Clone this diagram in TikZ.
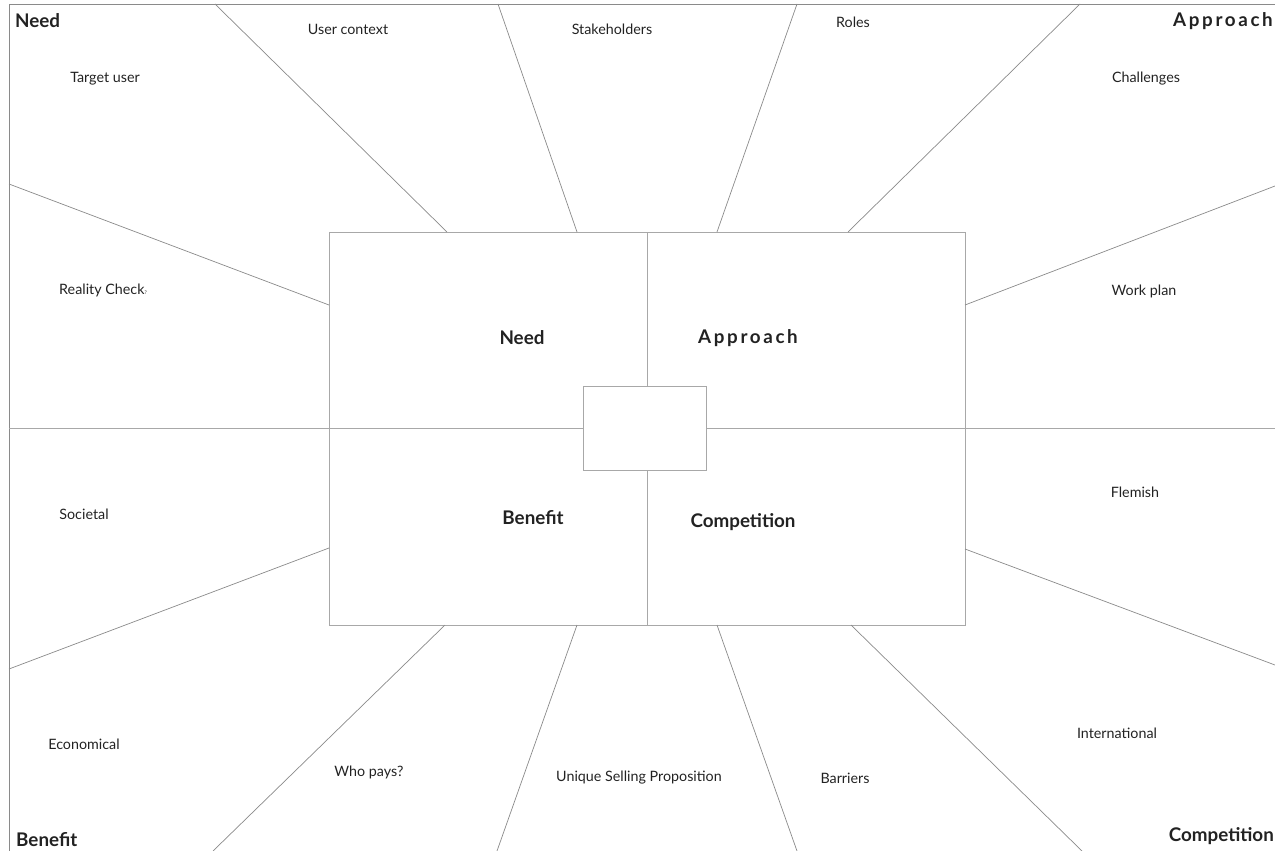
\documentclass[tikz,border=0pt]{standalone}
\usepackage{fontspec}
\setmainfont{Lato}
\definecolor{linec}{HTML}{8A8A8A}
\definecolor{boxc}{HTML}{A8A8A8}
\definecolor{txt}{HTML}{222222}
\tikzset{
  ray/.style={draw=linec, line width=0.7pt},
  boxline/.style={draw=boxc, line width=1pt},
  lbl/.style={text=txt, font=\fontsize{14.3}{16}\selectfont, inner sep=0pt},
  head/.style={text=txt, font=\fontsize{18.8}{20}\selectfont\bfseries, inner sep=0pt},
}
\begin{document}
\begin{tikzpicture}[x=1pt,y=-1pt]
\useasboundingbox (0,0) rectangle (1275,851);
% outer frame
\draw[ray] (9,851) -- (9,4) -- (1275,4);
% main rectangle
\node[boxline, minimum width=636pt, minimum height=393pt, inner sep=0pt, anchor=north west] (main) at (329,232) {};
% centre box
\node[boxline, minimum width=123pt, minimum height=84pt, inner sep=0pt, anchor=north west] (core) at (583,386) {};
% quadrant dividers
\coordinate (mt) at (647,232);
\coordinate (mb) at (647,625);
\coordinate (hl) at (9,428);
\coordinate (hr) at (1275,428);
\draw[boxline] (mt) -- (core.north -| mt);
\draw[boxline] (core.south -| mb) -- (mb);
\draw[boxline] (hl) -- (core.west |- hl);
\draw[boxline] (core.east |- hr) -- (hr);
% rays: top
\coordinate (t1o) at (215,4);  \coordinate (t1i) at (447,232);
\coordinate (t2o) at (498,4);  \coordinate (t2i) at (577,232);
\coordinate (t3o) at (797,4);  \coordinate (t3i) at (717,232);
\coordinate (t4o) at (1080,4); \coordinate (t4i) at (848,232);
% sides
\coordinate (l1o) at (9,184);   \coordinate (l1i) at (329,305);
\coordinate (r1o) at (1275,186);\coordinate (r1i) at (965,305);
\coordinate (l2o) at (9,669);   \coordinate (l2i) at (329,548);
\coordinate (r2o) at (1275,665);\coordinate (r2i) at (965,549);
% bottom
\coordinate (b1o) at (213,851); \coordinate (b1i) at (445,625);
\coordinate (b2o) at (497,851); \coordinate (b2i) at (577,625);
\coordinate (b3o) at (797,851); \coordinate (b3i) at (717,625);
\coordinate (b4o) at (1082,851);\coordinate (b4i) at (851,625);
\foreach \p in {t1,t2,t3,t4,l1,r1,l2,r2,b1,b2,b3,b4}
  \draw[ray] (\p o) -- (\p i);
% corner headings
\node[head, anchor=west] (hNeed) at (15,21) {Need};
\node[head, anchor=east] (hApp) at (1273,21) {\addfontfeature{LetterSpace=14}Approach};
\node[head, anchor=west] (hBen) at (16,840) {Benefit};
\node[head, anchor=east] (hComp) at (1274,836) {Competition};
% centre headings
\node[head] (cNeed) at (522,338) {Need};
\node[head] (cApp) at (748,338) {\addfontfeature{LetterSpace=14}Approach};
\node[head] (cBen) at (533,518) {Benefit};
\node[head] (cComp) at (743,522) {Competition};
% labels
\node[lbl] (target) at (105,79) {Target user};
\node[lbl] (ucontext) at (348,29) {User context};
\node[lbl] (stake) at (612,29) {Stakeholders};
\node[lbl] (roles) at (853,22) {Roles};
\node[lbl] (chall) at (1146,79) {Challenges};
\node[lbl] (reality) at (103,290) {Reality Check{\fontsize{5}{5}\selectfont ?}};
\node[lbl] (work) at (1144,291) {Work plan};
\node[lbl] (soc) at (84,514) {Societal};
\node[lbl] (flem) at (1135,492) {Flemish};
\node[lbl] (econ) at (84,744) {Economical};
\node[lbl] (who) at (369,772) {Who pays?};
\node[lbl] (usp) at (639,778) {Unique Selling Proposition};
\node[lbl] (barr) at (845,778) {Barriers};
\node[lbl] (intl) at (1117,733) {International};
\end{tikzpicture}
\end{document}
